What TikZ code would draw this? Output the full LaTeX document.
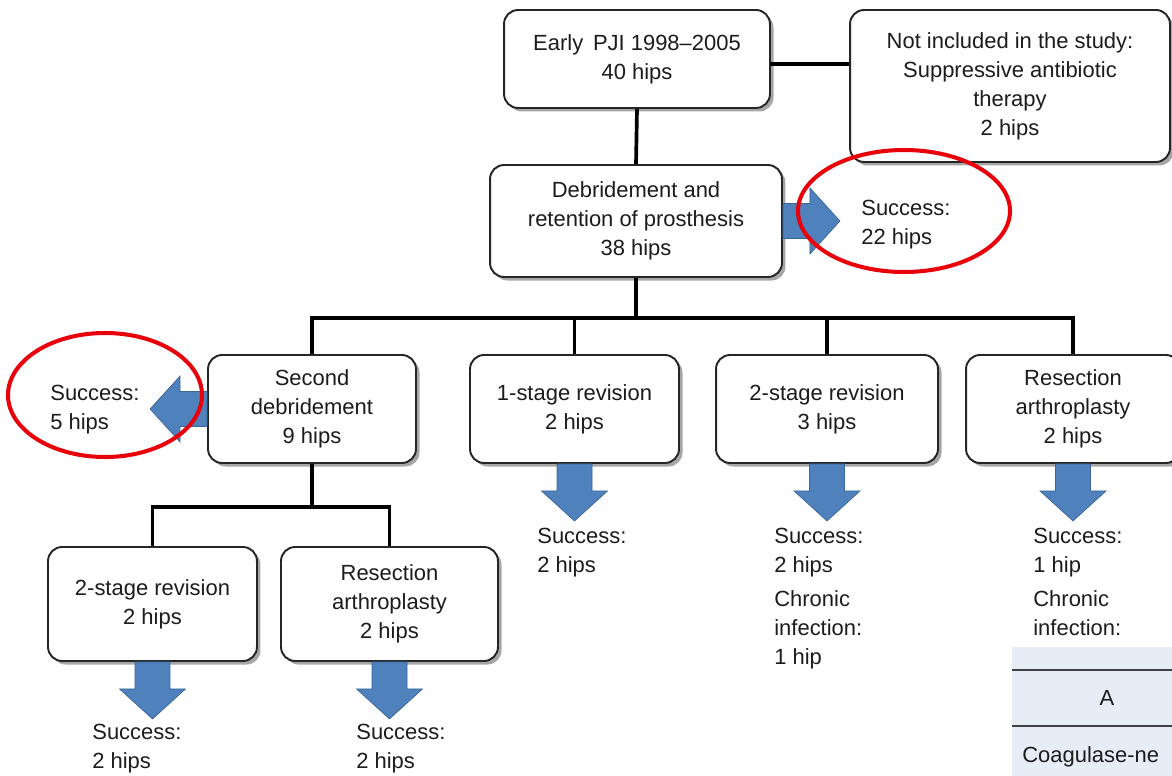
\documentclass[tikz,border=0pt]{standalone}
\usepackage{fontspec}
\setmainfont{Liberation Sans}
\usetikzlibrary{shadows}
\definecolor{arrowblue}{HTML}{4F81BD}
\definecolor{arrowedge}{HTML}{3B6698}
\definecolor{ringred}{HTML}{E8000B}
\definecolor{tablebg}{HTML}{E6EDF7}
\definecolor{ink}{HTML}{1C1C1C}

\begin{document}
\begin{tikzpicture}[x=0.02cm,y=-0.02cm,
    font=\fontsize{12.5}{16.5}\selectfont,text=ink,
    box/.style={rectangle,rounded corners=8pt,draw=black!85,line width=1.1pt,fill=white,align=center,
        drop shadow={shadow xshift=2pt,shadow yshift=-2pt,opacity=0.35,fill=black}},
    link/.style={line width=2.1pt,black},
    res/.style={align=left,anchor=north west,inner sep=0pt},
    ring/.style={draw=ringred,line width=2.3pt},
    blockarrow/.pic={\draw[fill=arrowblue,draw=arrowedge,line width=0.4pt]
        (0,-0.35cm) -- (0.54cm,-0.35cm) -- (0.54cm,-0.66cm) -- (1.14cm,0) -- (0.54cm,0.66cm) -- (0.54cm,0.35cm) -- (0,0.35cm) -- cycle;}]
    \useasboundingbox (0,0) rectangle (1172,776);
    \clip (0,0) rectangle (1172,776);
        % boxes
        \node[box,minimum width=5.32cm,minimum height=1.96cm] (early) at (637,59) {Early\, PJI 1998--2005\\40 hips};
        \node[box,minimum width=6.4cm,minimum height=3.04cm] (notinc) at (1010,86) {Not included in the study:\\Suppressive antibiotic\\therapy\\2 hips};
        \node[box,minimum width=5.84cm,minimum height=2.24cm] (debr) at (636,221) {Debridement and\\retention of prosthesis\\38 hips};
        \node[box,minimum width=4.16cm,minimum height=2.16cm] (second) at (312,409) {Second\\debridement\\9 hips};
        \node[box,minimum width=4.18cm,minimum height=2.16cm] (onestage) at (574.5,409) {1-stage revision\\2 hips};
        \node[box,minimum width=4.44cm,minimum height=2.16cm] (twostage) at (827,409) {2-stage revision\\3 hips};
        \node[box,minimum width=4.28cm,minimum height=2.16cm] (resect) at (1073,409) {Resection\\arthroplasty\\2 hips};
        \node[box,minimum width=4.18cm,minimum height=2.28cm] (twostageb) at (152.5,604) {2-stage revision\\2 hips};
        \node[box,minimum width=4.34cm,minimum height=2.28cm] (resectb) at (389.5,604) {Resection\\arthroplasty\\2 hips};
        % tree lines
        \coordinate (bar) at (636,318);
        \coordinate (barb) at (312,507);
        \coordinate (side) at (770,64);
        \draw[link] (side) -- (side -| notinc.west);
        \draw[link] (early.south) -- (debr.north);
        \draw[link] (debr.south) -- (debr.south |- bar);
        \draw[link] (second.north) |- (resect.north |- bar) -- (resect.north);
        \draw[link] (onestage.north) -- (onestage.north |- bar);
        \draw[link] (twostage.north) -- (twostage.north |- bar);
        \draw[link] (second.south) -- (second.south |- barb);
        \draw[link] (twostageb.north) |- (resectb.north |- barb) -- (resectb.north);
        % blue arrows
        \pic at (debr.east) {blockarrow};
        \pic[rotate=180] at (second.west) {blockarrow};
        \pic[rotate=-90] at (onestage.south) {blockarrow};
        \pic[rotate=-90] at (twostage.south) {blockarrow};
        \pic[rotate=-90] at (resect.south) {blockarrow};
        \pic[rotate=-90] at (twostageb.south) {blockarrow};
        \pic[rotate=-90] at (resectb.south) {blockarrow};
        % outcomes
        \node[res] (s22) at (861,200) {Success:\\22 hips};
        \node[res] (s5) at (50,385) {Success:\\5 hips};
        \node[res] (s1) at (537,528) {Success:\\2 hips};
        \node[res] (s2) at (774,528) {Success:\\2 hips\\[3pt]Chronic\\infection:\\1 hip};
        \node[res] (s3) at (1033,528) {Success:\\1 hip\\[3pt]Chronic\\infection:};
        \node[res] (sb1) at (92,724) {Success:\\2 hips};
        \node[res] (sb2) at (356,724) {Success:\\2 hips};
        % red rings
        \draw[ring] (904,211) ellipse [x radius=106,y radius=61];
        \draw[ring] (105,395) ellipse [x radius=97,y radius=62];
        % table corner
        \fill[tablebg] (1012,647) rectangle (1180,780);
        \draw[black!75,line width=1pt] (1012,670) -- (1180,670);
        \draw[black!75,line width=1pt] (1012,726) -- (1180,726);
        \node (tabhead) at (1107,698) {A};
        \node[anchor=west,inner sep=0pt] (tabcell) at (1022,757) {Coagulase-ne};
\end{tikzpicture}
\end{document}
